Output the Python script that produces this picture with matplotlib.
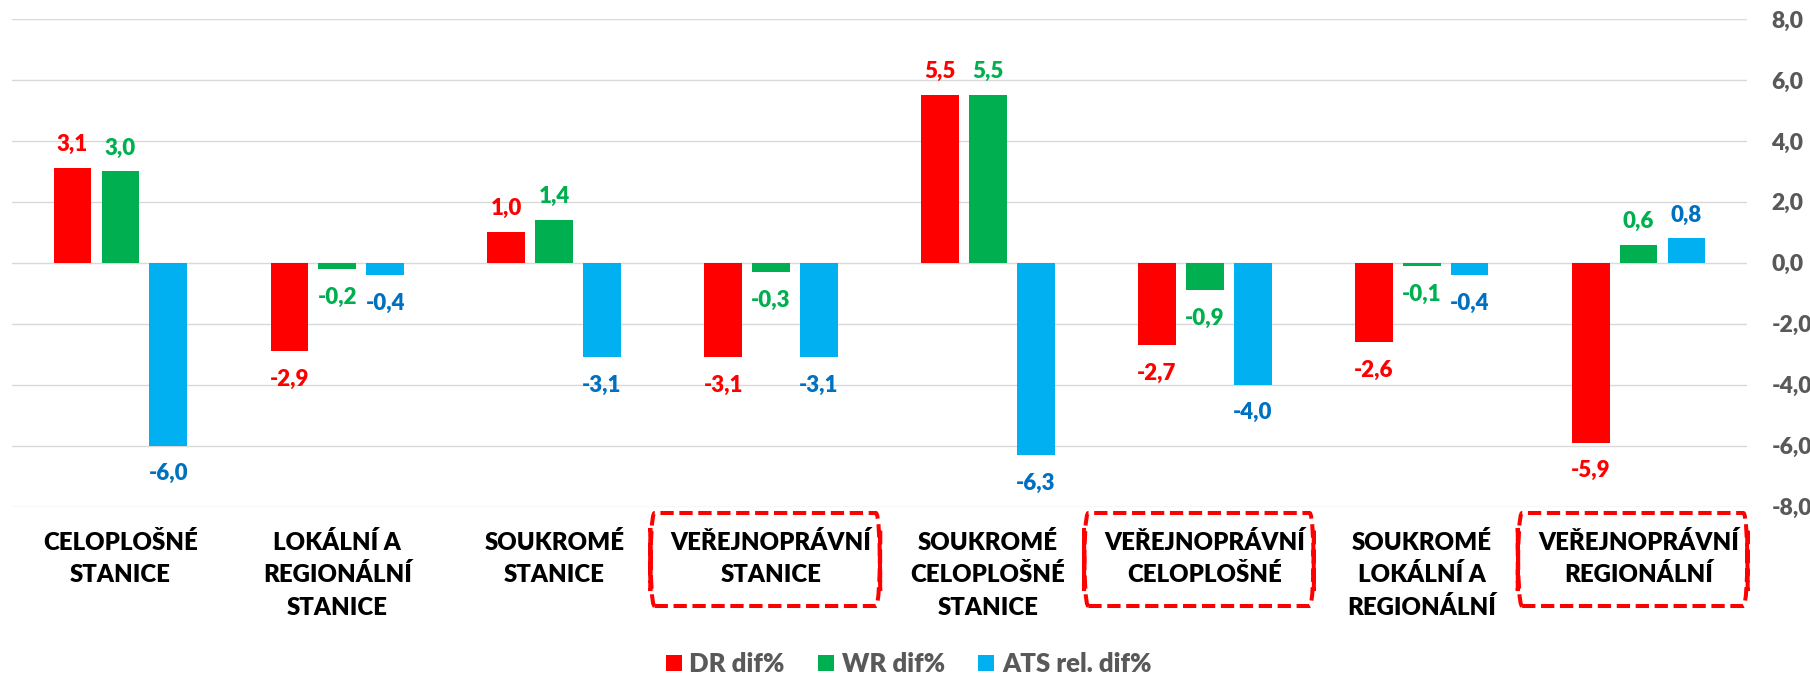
import matplotlib
matplotlib.use("Agg")
import matplotlib.pyplot as plt
from matplotlib.patches import FancyBboxPatch, Patch
from matplotlib.transforms import blended_transform_factory
from matplotlib.ticker import FuncFormatter, MultipleLocator
import numpy as np

plt.rcParams['font.family'] = ['Lato', 'DejaVu Sans']
plt.rcParams['font.weight'] = 'bold'

categories = [
    ["CELOPLOŠNÉ", "STANICE"],
    ["LOKÁLNÍ A", "REGIONÁLNÍ", "STANICE"],
    ["SOUKROMÉ", "STANICE"],
    ["VEŘEJNOPRÁVNÍ", "STANICE"],
    ["SOUKROMÉ", "CELOPLOŠNÉ", "STANICE"],
    ["VEŘEJNOPRÁVNÍ", "CELOPLOŠNÉ"],
    ["SOUKROMÉ", "LOKÁLNÍ A", "REGIONÁLNÍ"],
    ["VEŘEJNOPRÁVNÍ", "REGIONÁLNÍ"],
]
dr_dif = [3.1, -2.9, 1.0, -3.1, 5.5, -2.7, -2.6, -5.9]
wr_dif = [3.0, -0.2, 1.4, -0.3, 5.5, -0.9, -0.1, 0.6]
ats_rel_dif = [-6.0, -0.4, -3.1, -3.1, -6.3, -4.0, -0.4, 0.8]
series_names = ["DR dif%", "WR dif%", "ATS rel. dif%"]
highlighted = [3, 5, 7]

bar_colors = ["#FF0000", "#00B050", "#00B0F0"]
label_colors = ["#FF0000", "#00B050", "#0070C0"]
WEIGHT = "heavy"

W, H = 1810, 674
fig = plt.figure(figsize=(W / 100, H / 100), dpi=100)
ax_left, ax_right = 12, 1747
ax_top, ax_bot = 19, 506.7
ax = fig.add_axes([ax_left / W, 1 - ax_bot / H, (ax_right - ax_left) / W, (ax_bot - ax_top) / H])

x = np.arange(len(categories))
bw = 0.174
off = 0.221
series = [dr_dif, wr_dif, ats_rel_dif]
for k, (vals, name) in enumerate(zip(series, series_names)):
    xs = x + (k - 1) * off
    ax.bar(xs, vals, width=bw, color=bar_colors[k], label=name, zorder=2)
    for xi, v in zip(xs, vals):
        txt = f"{v:.1f}".replace(".", ",")
        dy = 16.9 if v >= 0 else -20.2
        ax.annotate(txt, (xi, v), xytext=(0, dy), textcoords="offset points",
                    ha="center", va="center", fontsize=16, fontweight=WEIGHT,
                    color=label_colors[k])

ax.set_xlim(-0.5, len(categories) - 0.5)
ax.set_ylim(-8, 8)
ax.yaxis.set_major_locator(MultipleLocator(2))
ax.yaxis.tick_right()
ax.yaxis.set_major_formatter(FuncFormatter(lambda v, p: f"{v:.1f}".replace(".", ",")))
ax.tick_params(axis="y", length=0, pad=17.5, labelsize=16.5, labelcolor="#595959")
for lab in ax.get_yticklabels():
    lab.set_fontweight(WEIGHT)
    lab.set_horizontalalignment("left")
ax.set_xticks([])
ax.grid(axis="y", color="#D9D9D9", linewidth=1.0, zorder=0)
ax.set_axisbelow(True)
for s in ax.spines.values():
    s.set_visible(False)

# category labels
trans = blended_transform_factory(ax.transData, ax.transAxes)
axh = ax_bot - ax_top
base0 = 550
pitch = 32.5
for i, lines in enumerate(categories):
    for j, line in enumerate(lines):
        ypx = base0 + j * pitch
        ax.text(i, (ax_bot - ypx) / axh, line, transform=trans, ha="center",
                va="baseline", fontsize=17.3, fontweight=WEIGHT, color="black",
                clip_on=False)

# dashed highlight boxes
y0 = (ax_bot - 606) / axh
y1 = (ax_bot - 513) / axh
for i in highlighted:
    box = FancyBboxPatch((i - 0.557, y0), 1.06, y1 - y0, transform=trans,
                         boxstyle="round,pad=0,rounding_size=0.02",
                         fill=False, edgecolor="#FF0000", linewidth=2.9,
                         linestyle=(0, (3.3, 1.4)), clip_on=False, zorder=5,
                         mutation_aspect=8)
    ax.add_patch(box)

handles = [Patch(facecolor=c, edgecolor="none") for c in bar_colors]
leg = fig.legend(handles, series_names, loc="center", bbox_to_anchor=(0.502, 1 - 664 / H),
                 ncol=3, frameon=False, fontsize=18.5, handlelength=0.62, handleheight=0.62,
                 handletextpad=0.3, columnspacing=1.3, borderaxespad=0, borderpad=0)
for t in leg.get_texts():
    t.set_color("#595959")
    t.set_fontweight(WEIGHT)

fig.savefig("out.png", dpi=100)
